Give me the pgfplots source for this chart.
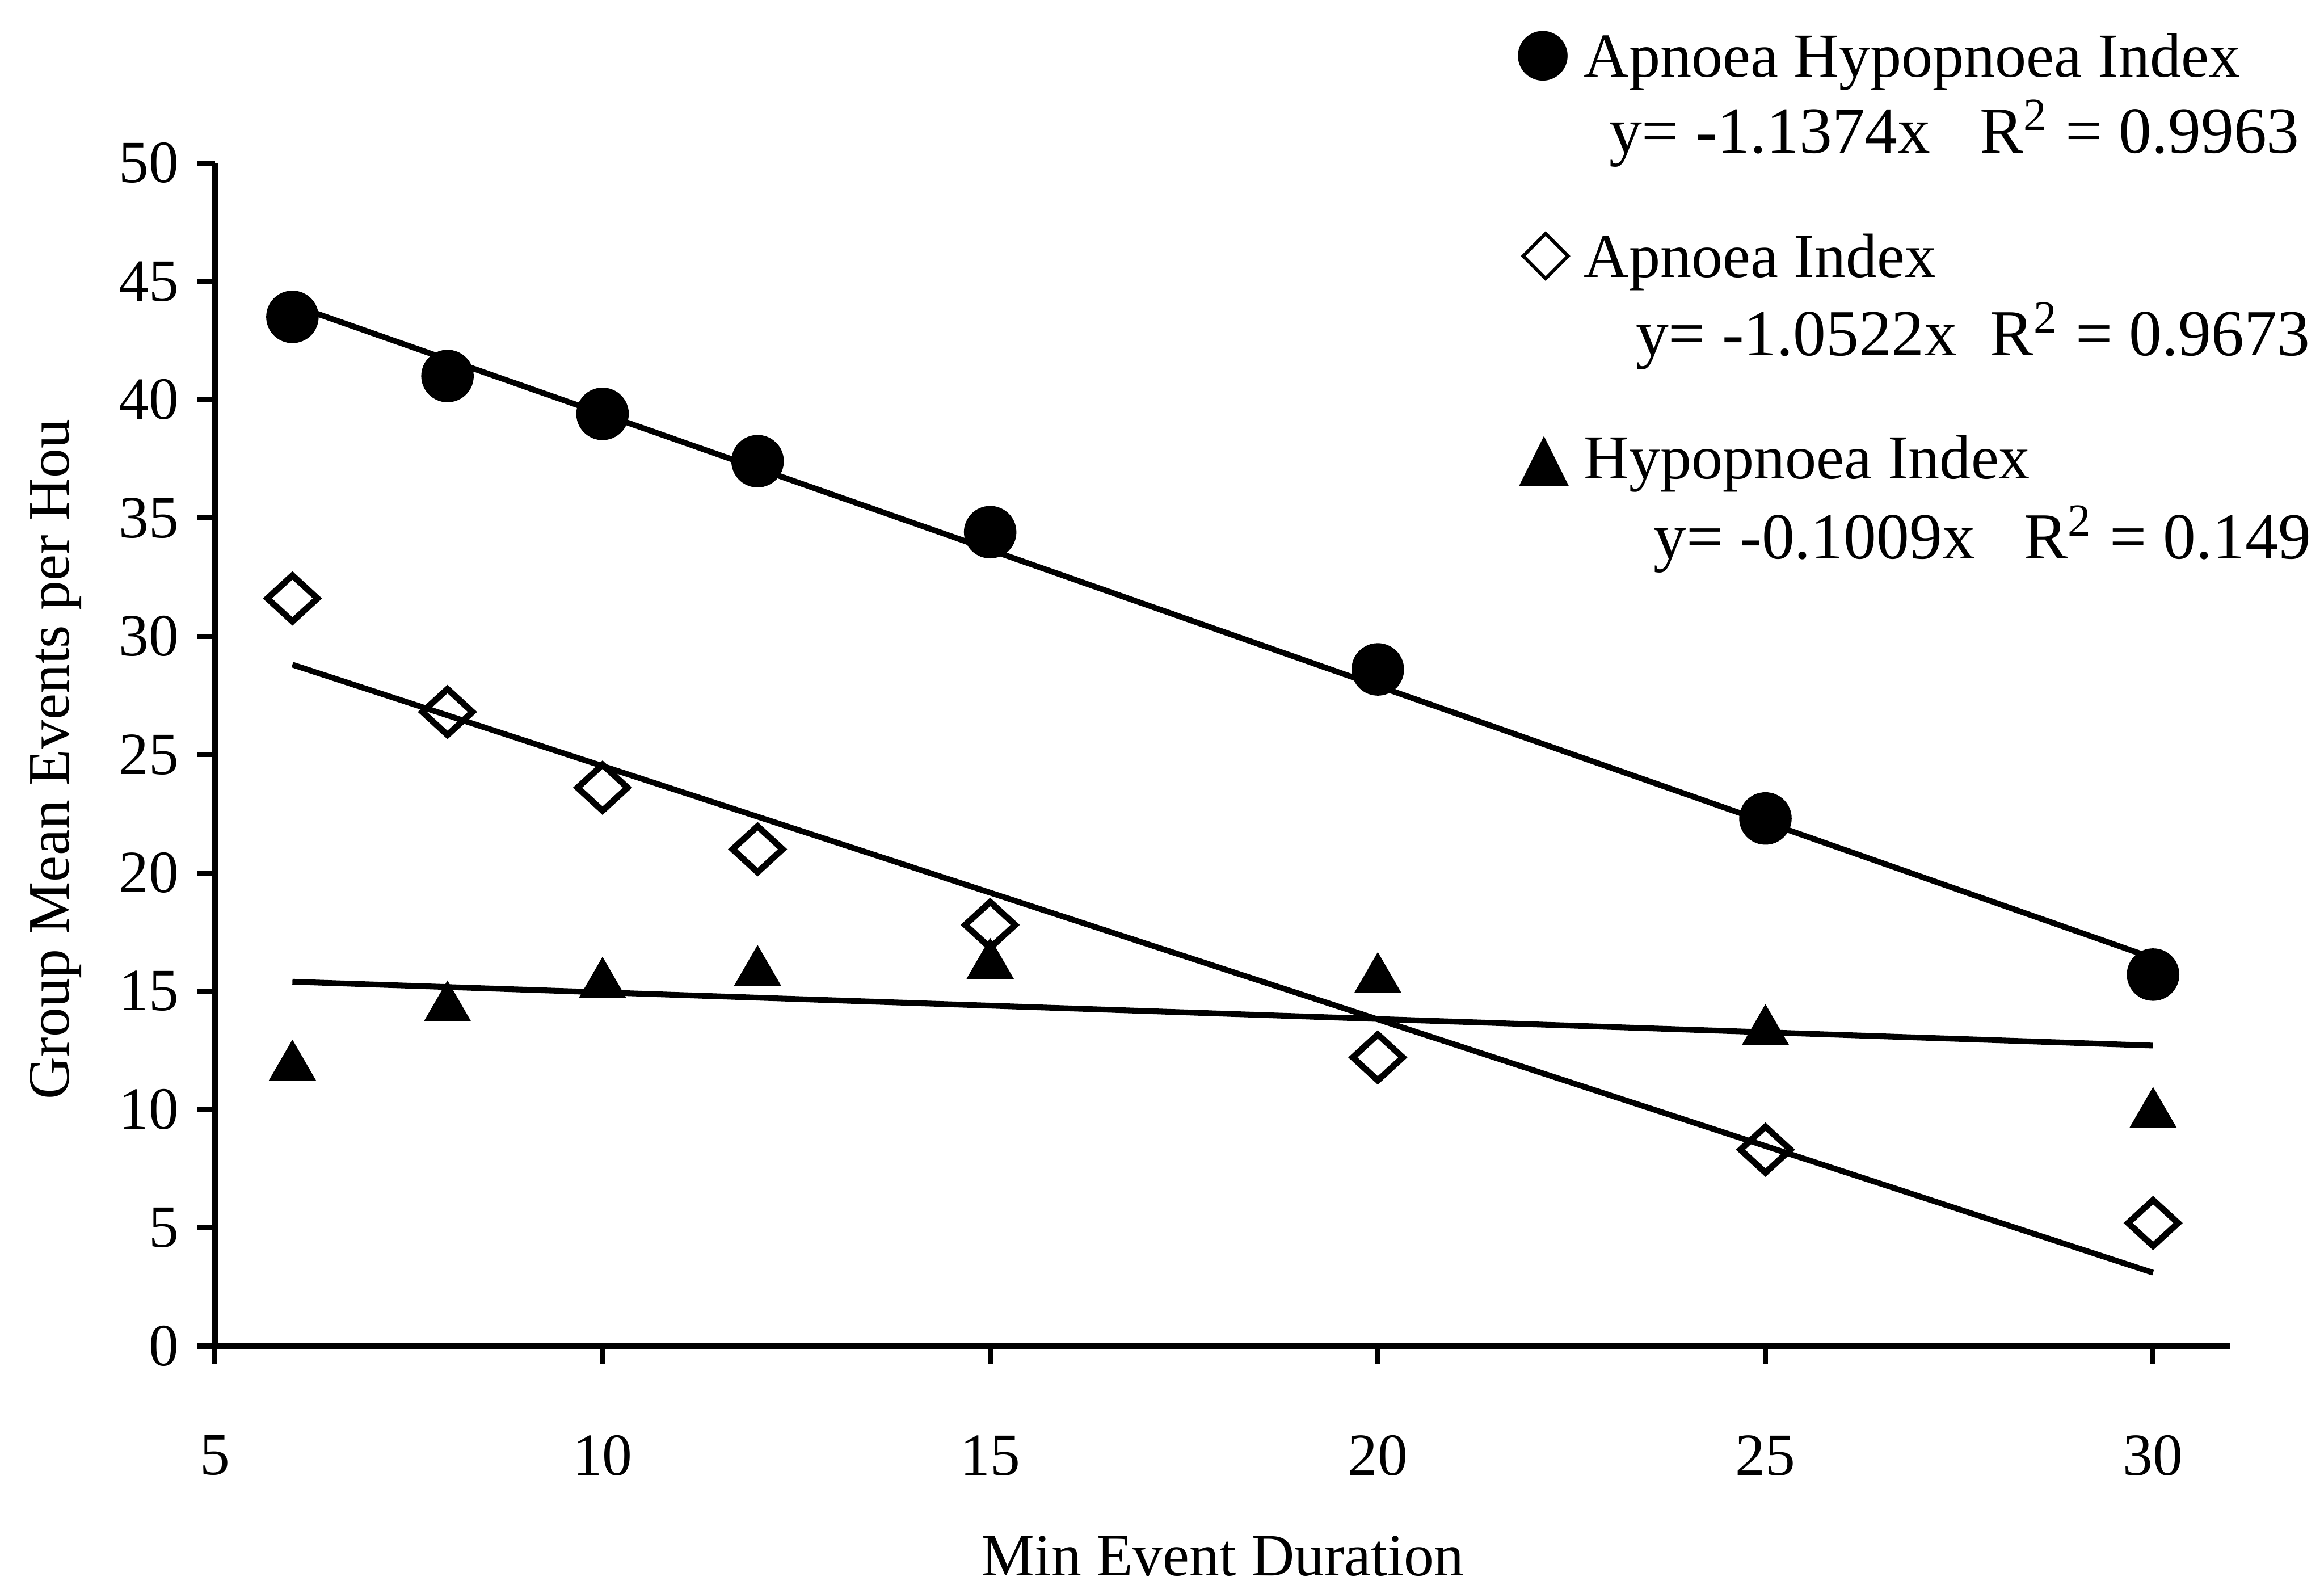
\documentclass[border=0pt]{standalone}
\usepackage{fontspec}
\setmainfont{Liberation Serif}
\newfontfamily\symfont{DejaVu Sans}
\usepackage{pgfplots}
\pgfplotsset{compat=1.18}
\begin{document}
\begin{tikzpicture}[x=0.1mm,y=0.1mm]
\path[use as bounding box] (0,0) rectangle (1568,1069);
\begin{axis}[
  at={(14.5mm,16.1mm)}, anchor=south west,
  width=136mm, height=79.8mm, scale only axis,
  xmin=5, xmax=31, ymin=0, ymax=50,
  axis x line*=bottom, axis y line*=left,
  axis line style={line width=1.1pt, -},
  xtick={5,10,...,30}, ytick={0,5,...,50},
  tick align=outside, tick style={line width=1pt, black},
  major tick length=1.2mm,
  /pgf/number format/assume math mode=true,
  ticklabel style={font=\fontsize{11.5}{13}\selectfont},
  xticklabel style={yshift=-3.6mm},
  xlabel={Min Event Duration},
  ylabel={Group Mean Events per Hou},
  xlabel style={at={(axis description cs:0.5,-0.194)}, anchor=base, font=\fontsize{11.5}{14}\selectfont},
  ylabel style={at={(axis description cs:-0.079,0.496)}, anchor=center, font=\fontsize{11.3}{13}\selectfont},
  clip=false,
]
% trend lines
\addplot[black, line width=1.1pt] coordinates {(6,44.0) (30,16.4)};
\addplot[black, line width=1.1pt] coordinates {(6,28.8) (30,3.1)};
\addplot[black, line width=1.1pt] coordinates {(6,15.4) (30,12.7)};
% Apnoea Hypopnoea Index
\addplot[only marks, mark=*, mark size=1.7mm, black] coordinates {
(6,43.5) (8,41.0) (10,39.4) (12,37.4) (15,34.4) (20,28.6) (25,22.3) (30,15.7)};
% Apnoea Index
\addplot[only marks, mark=diamond, mark size=1.55mm, black, mark options={xscale=1.45, line width=1.2pt}] coordinates {
(6,31.6) (8,26.8) (10,23.6) (12,21.0) (15,17.8) (20,12.2) (25,8.3) (30,5.2)};
% Hypopnoea Index
\addplot[only marks, mark=triangle*, mark size=1.7mm, black] coordinates {
(6,11.8) (8,14.3) (10,15.3) (12,15.8) (15,16.1) (20,15.5) (25,13.3) (30,9.8)};
\end{axis}
% legend text
\node[anchor=center, inner sep=0pt] at (1041,1031) {\symfont\fontsize{12.5}{14}\selectfont ●};
\node[anchor=base west, inner sep=0pt] at (1068,1017) {\fontsize{12}{14}\selectfont Apnoea Hypopnoea Index};
\node[anchor=base west, inner sep=0pt] at (1085,966) {\fontsize{12.6}{14}\selectfont y= -1.1374x\ \ \ R\textsuperscript{2} = 0.9963};
\node[anchor=center, inner sep=0pt] at (1043,896) {\symfont\fontsize{12.5}{14}\selectfont ◇};
\node[anchor=base west, inner sep=0pt] at (1068,882) {\fontsize{12}{14}\selectfont Apnoea Index};
\node[anchor=base west, inner sep=0pt] at (1103,829) {\fontsize{12.6}{14}\selectfont y= -1.0522x\ \ R\textsuperscript{2} = 0.9673};
\node[anchor=center, inner sep=0pt] at (1042,758) {\symfont\fontsize{12.5}{14}\selectfont ▲};
\node[anchor=base west, inner sep=0pt] at (1068,746) {\fontsize{12}{14}\selectfont Hypopnoea Index};
\node[anchor=base west, inner sep=0pt] at (1115,692) {\fontsize{12.6}{14}\selectfont y= -0.1009x\ \ \ R\textsuperscript{2} = 0.149};
\end{tikzpicture}
\end{document}
